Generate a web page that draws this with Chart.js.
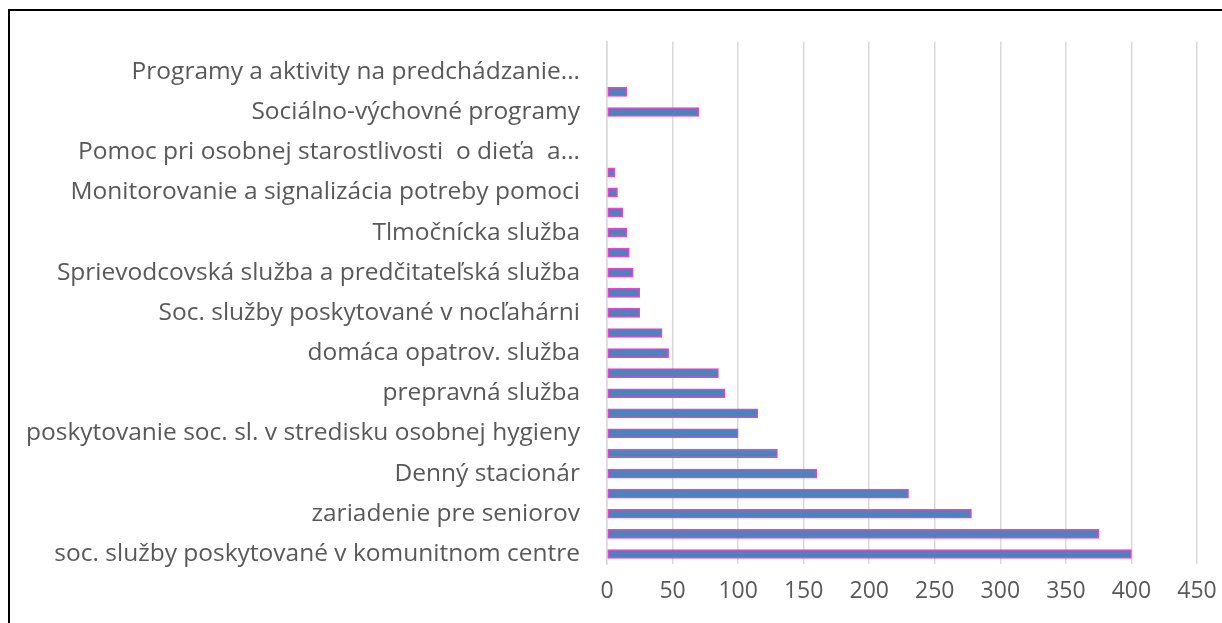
<!DOCTYPE html>
<html lang="sk">
<head>
    <meta charset="UTF-8">
    <title>Sociálne služby</title>
    <script src="https://cdn.jsdelivr.net/npm/chart.js"></script>
    <style>
        body {
            margin: 0;
            background: #fff;
        }
        #wrap {
            position: relative;
            width: 1222px;
            height: 623px;
            overflow: hidden;
        }
        #frame {
            position: absolute;
            left: 8px;
            top: 9px;
            width: 1400px;
            height: 800px;
            border-left: 2px solid #000;
            border-top: 2px solid #000;
            pointer-events: none;
        }
    </style>
</head>
<body>

<div id="wrap">
    <canvas id="chart" width="1222" height="623"></canvas>
    <div id="frame"></div>
</div>

<script>
    // categories top to bottom; unlabeled rows in the original get an empty label
    const categories = [
        '',
        'Programy a aktivity na predchádzanie...',
        '',
        'Sociálno-výchovné programy',
        '',
        'Pomoc pri osobnej starostlivosti  o dieťa  a...',
        '',
        'Monitorovanie a signalizácia potreby pomoci',
        '',
        'Tlmočnícka služba',
        '',
        'Sprievodcovská služba a predčitateľská služba',
        '',
        'Soc. služby poskytované v nocľahárni',
        '',
        'domáca opatrov. služba',
        '',
        'prepravná služba',
        '',
        'poskytovanie soc. sl. v stredisku osobnej hygieny',
        '',
        'Denný stacionár',
        '',
        'zariadenie pre seniorov',
        '',
        'soc. služby poskytované v komunitnom centre'
    ];
    const counts = [0, 0, 15, 70, 0, 0, 6, 8, 12, 15, 17, 20, 25, 25, 42, 47, 85, 90, 115, 100, 130, 160, 230, 278, 375, 400];
    const xTicks = [0, 50, 100, 150, 200, 250, 300, 350, 400, 450];

    const textColor = '#595959';
    const gridColor = '#d9d9d9';

    new Chart(document.getElementById('chart'), {
        type: 'bar',
        data: {
            labels: categories,
            datasets: [{
                data: counts,
                backgroundColor: '#4f81bd',
                borderColor: '#ee3fd0',
                borderWidth: 1.5,
                borderSkipped: false,
                barThickness: 9
            }]
        },
        options: {
            indexAxis: 'y',
            responsive: false,
            animation: false,
            layout: {
                padding: { top: 41, right: 25, bottom: 0, left: 0 }
            },
            plugins: {
                legend: { display: false },
                tooltip: { enabled: false }
            },
            scales: {
                x: {
                    min: xTicks[0],
                    max: xTicks[xTicks.length - 1],
                    afterBuildTicks: scale => {
                        scale.ticks = xTicks.map(v => ({ value: v }));
                    },
                    afterFit: scale => {
                        scale.height = 59;
                        scale.paddingLeft = 0;
                        scale.paddingRight = 0;
                    },
                    grid: {
                        color: gridColor,
                        lineWidth: 1.5,
                        drawTicks: false
                    },
                    border: { display: false },
                    ticks: {
                        color: textColor,
                        padding: 14,
                        font: { family: 'Open Sans', size: 23 }
                    }
                },
                y: {
                    afterFit: scale => { scale.width = 607; },
                    grid: { display: false, drawTicks: false },
                    border: { color: gridColor, width: 1.5 },
                    ticks: {
                        autoSkip: false,
                        color: textColor,
                        padding: 27,
                        font: { family: 'Open Sans', size: 24.5 }
                    }
                }
            }
        }
    });
</script>

</body>
</html>
